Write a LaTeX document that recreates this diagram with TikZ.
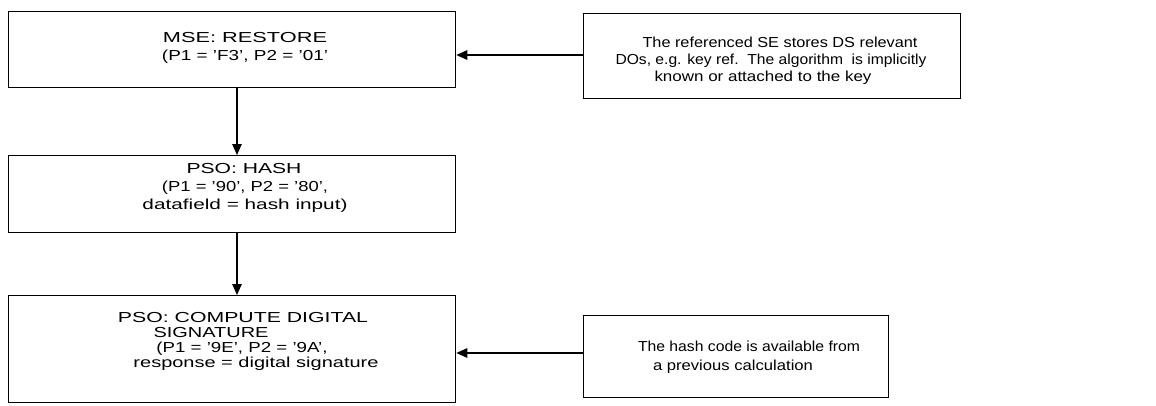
\documentclass[tikz,border=0pt]{standalone}
\usepackage{fontspec}
\usepackage{graphicx}
\setmainfont{Liberation Sans}
\usetikzlibrary{arrows.meta}

% one text line set to a given width, keeping its height
\newcommand\wline[2]{\resizebox{#1}{\height}{#2}}

\tikzset{
  frame/.style={draw, line width=1.3pt, inner sep=0pt, anchor=north west},
  txt/.style={inner sep=0pt, anchor=base, font=\fontsize{14.5}{17}\selectfont},
  flow/.style={line width=1.3pt, -{Triangle[length=11pt,width=9.5pt]}}
}

\begin{document}
\begin{tikzpicture}[x=1pt, y=-1pt]
  \useasboundingbox (0,0) rectangle (1156,405);

  % command boxes on the left
  \node[frame, minimum width=447pt, minimum height=76pt] (mse) at (8,11) {};
  \node[frame, minimum width=447pt, minimum height=77pt] (hash) at (8,155) {};
  \node[frame, minimum width=447pt, minimum height=107pt] (sig) at (8,295) {};

  % explanatory notes on the right
  \node[frame, minimum width=377pt, minimum height=85pt] (noteA) at (583,13) {};
  \node[frame, minimum width=305pt, minimum height=82pt] (noteB) at (583,315) {};

  % MSE: RESTORE
  \node[txt] (mse1) at (245,42) {\wline{164pt}{MSE: RESTORE}};
  \node[txt] (mse2) at (245,60) {\wline{166pt}{(P1 = 'F3', P2 = '01'}};

  % PSO: HASH
  \node[txt] (hash1) at (244,173) {\wline{115pt}{PSO: HASH}};
  \node[txt] (hash2) at (245,191) {\wline{166pt}{(P1 = '90', P2 = '80',}};
  \node[txt] (hash3) at (245,209) {\wline{205pt}{datafield = hash input)}};

  % PSO: COMPUTE DIGITAL SIGNATURE
  \node[txt] (sig1) at (243,322) {\wline{250pt}{PSO: COMPUTE DIGITAL}};
  \node[txt] (sig2) at (211,337) {\wline{115pt}{SIGNATURE}};
  \node[txt] (sig3) at (242,352) {\wline{171pt}{(P1 = '9E', P2 = '9A',}};
  \node[txt] (sig4) at (256,367) {\wline{245pt}{response = digital signature}};

  % note on the referenced SE
  \node[txt] (noteA1) at (780,47) {\wline{275pt}{The referenced SE stores DS relevant}};
  \node[txt] (noteA2) at (771,64) {\wline{311pt}{DOs, e.g. key ref.\ \ The algorithm\ \ is implicitly}};
  \node[txt] (noteA3) at (763,81) {\wline{217pt}{known or attached to the key}};

  % note on the hash code
  \node[txt] (noteB1) at (749,351) {\wline{222pt}{The hash code is available from}};
  \node[txt] (noteB2) at (733,370) {\wline{160pt}{a previous calculation}};

  % connectors
  \draw[flow] (mse.south -| 237,0) -- (hash.north -| 237,0);
  \draw[flow] (hash.south -| 237,0) -- (sig.north -| 237,0);
  \draw[flow] (noteA.west |- 0,55) -- (mse.east |- 0,55);
  \draw[flow] (noteB.west |- 0,353) -- (sig.east |- 0,353);
\end{tikzpicture}
\end{document}
